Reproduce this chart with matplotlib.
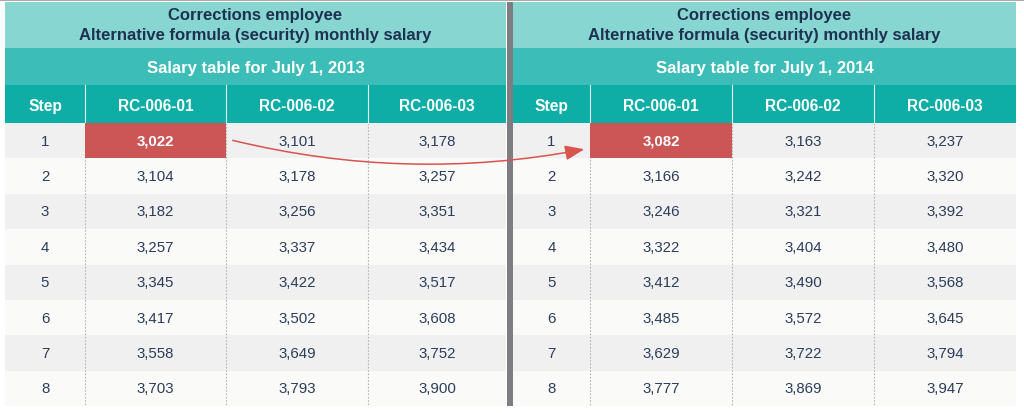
import matplotlib
matplotlib.use("Agg")
import matplotlib.pyplot as plt
from matplotlib.patches import Rectangle, FancyArrowPatch

plt.rcParams['font.family'] = ['Liberation Sans', 'DejaVu Sans']

title_lines = ["Corrections employee", "Alternative formula (security) monthly salary"]
subtitles = ["Salary table for July 1, 2013", "Salary table for July 1, 2014"]
col_headers = ["Step", "RC-006-01", "RC-006-02", "RC-006-03"]
steps = [1, 2, 3, 4, 5, 6, 7, 8]

rc01_2013 = [3022, 3104, 3182, 3257, 3345, 3417, 3558, 3703]
rc02_2013 = [3101, 3178, 3256, 3337, 3422, 3502, 3649, 3793]
rc03_2013 = [3178, 3257, 3351, 3434, 3517, 3608, 3752, 3900]

rc01_2014 = [3082, 3166, 3246, 3322, 3412, 3485, 3629, 3777]
rc02_2014 = [3163, 3242, 3321, 3404, 3490, 3572, 3722, 3869]
rc03_2014 = [3237, 3320, 3392, 3480, 3568, 3645, 3794, 3947]

tables = [
    (subtitles[0], [rc01_2013, rc02_2013, rc03_2013]),
    (subtitles[1], [rc01_2014, rc02_2014, rc03_2014]),
]

W, H = 1024, 414
fig = plt.figure(figsize=(W / 100, H / 100), dpi=100)
ax = fig.add_axes([0, 0, 1, 1])
ax.set_xlim(0, W)
ax.set_ylim(H, 0)
ax.axis('off')

C_TITLE = '#87d6d1'
C_SUB = '#3dbdb7'
C_HEAD = '#0eaea7'
C_ODD = '#f0f0f0'
C_EVEN = '#fafaf9'
C_RED = '#cc5555'
C_NAVY = '#1e3150'
C_BODY = '#2c3d5a'

FS_TITLE = 12.0
FS_HEAD = 11.2
FS_BODY = 10.8

# top gray line
ax.add_patch(Rectangle((0, 0), W, 2.2, color='#a9a9a9', lw=0))

y_top, y_sub, y_head, y_body = 3, 49, 86, 124
row_h = 35.4

# column edges for each table
col_edges = [
    [5, 85, 226, 368, 506],
    [513, 590, 732, 874, 1016],
]

cell_centers = {}
for t, (sub, cols) in enumerate(tables):
    e = col_edges[t]
    x0, x1 = e[0], e[-1]
    ax.add_patch(Rectangle((x0, y_top), x1 - x0, y_sub - y_top, color=C_TITLE, lw=0))
    ax.add_patch(Rectangle((x0, y_sub), x1 - x0, y_head - y_sub, color=C_SUB, lw=0))
    ax.add_patch(Rectangle((x0, y_head), x1 - x0, y_body - y_head, color=C_HEAD, lw=0))
    xc = (x0 + x1) / 2
    ax.text(xc, 15.5, title_lines[0], ha='center', va='center', color=C_NAVY,
            fontsize=FS_TITLE, fontweight='bold')
    ax.text(xc, 35.5, title_lines[1], ha='center', va='center', color=C_NAVY,
            fontsize=FS_TITLE, fontweight='bold')
    ax.text(xc, 68, sub, ha='center', va='center', color='white',
            fontsize=FS_TITLE, fontweight='bold')
    for j, h in enumerate(col_headers):
        cx = (e[j] + e[j + 1]) / 2
        ax.text(cx, 107, h, ha='center', va='center', color='white',
                fontsize=FS_HEAD, fontweight='bold')
        if j > 0:
            ax.plot([e[j], e[j]], [y_head, y_body], color='#e6f6f5', lw=0.8)
    for i, s in enumerate(steps):
        yt = y_body + i * row_h
        ax.add_patch(Rectangle((x0, yt), x1 - x0, row_h,
                               color=C_ODD if i % 2 == 0 else C_EVEN, lw=0))
        yc = yt + row_h / 2
        ax.text((e[0] + e[1]) / 2, yc, str(s), ha='center', va='center',
                color=C_BODY, fontsize=FS_BODY)
        for j, vals in enumerate(cols):
            cx = (e[j + 1] + e[j + 2]) / 2
            v = vals[i]
            if i == 0 and j == 0:
                ax.add_patch(Rectangle((e[1], yt), e[2] - e[1], row_h,
                                       color=C_RED, lw=0, zorder=2))
                ax.text(cx, yc, f"{v:,}", ha='center', va='center', color='white',
                        fontsize=FS_BODY, fontweight='bold', zorder=3)
                cell_centers[t] = (e[1], e[2], yc)
            else:
                ax.text(cx, yc, f"{v:,}", ha='center', va='center',
                        color=C_BODY, fontsize=FS_BODY)
    y_end = y_body + len(steps) * row_h
    for j in range(1, 4):
        ax.plot([e[j], e[j]], [y_body, y_end], color='#b5b5b5', lw=0.8,
                ls=(0, (1.5, 1.5)), zorder=1.5)

# separator bar
ax.add_patch(Rectangle((506.5, 3), 6, y_body + len(steps) * row_h - 3,
                       color='#7d7d82', lw=0, zorder=4))

# arrow from 2013 highlighted cell to 2014 highlighted cell
(_, l_right, l_y) = cell_centers[0]
(r_left, _, r_y) = cell_centers[1]
arrow = FancyArrowPatch((l_right + 4, l_y - 1), (r_left - 3, r_y + 8),
                        connectionstyle="arc3,rad=0.11", arrowstyle='-|>,head_length=0.9,head_width=0.35',
                        mutation_scale=13, color='#d9534f', lw=1.1, zorder=5)
ax.add_patch(arrow)

fig.savefig('out.png', dpi=100)
